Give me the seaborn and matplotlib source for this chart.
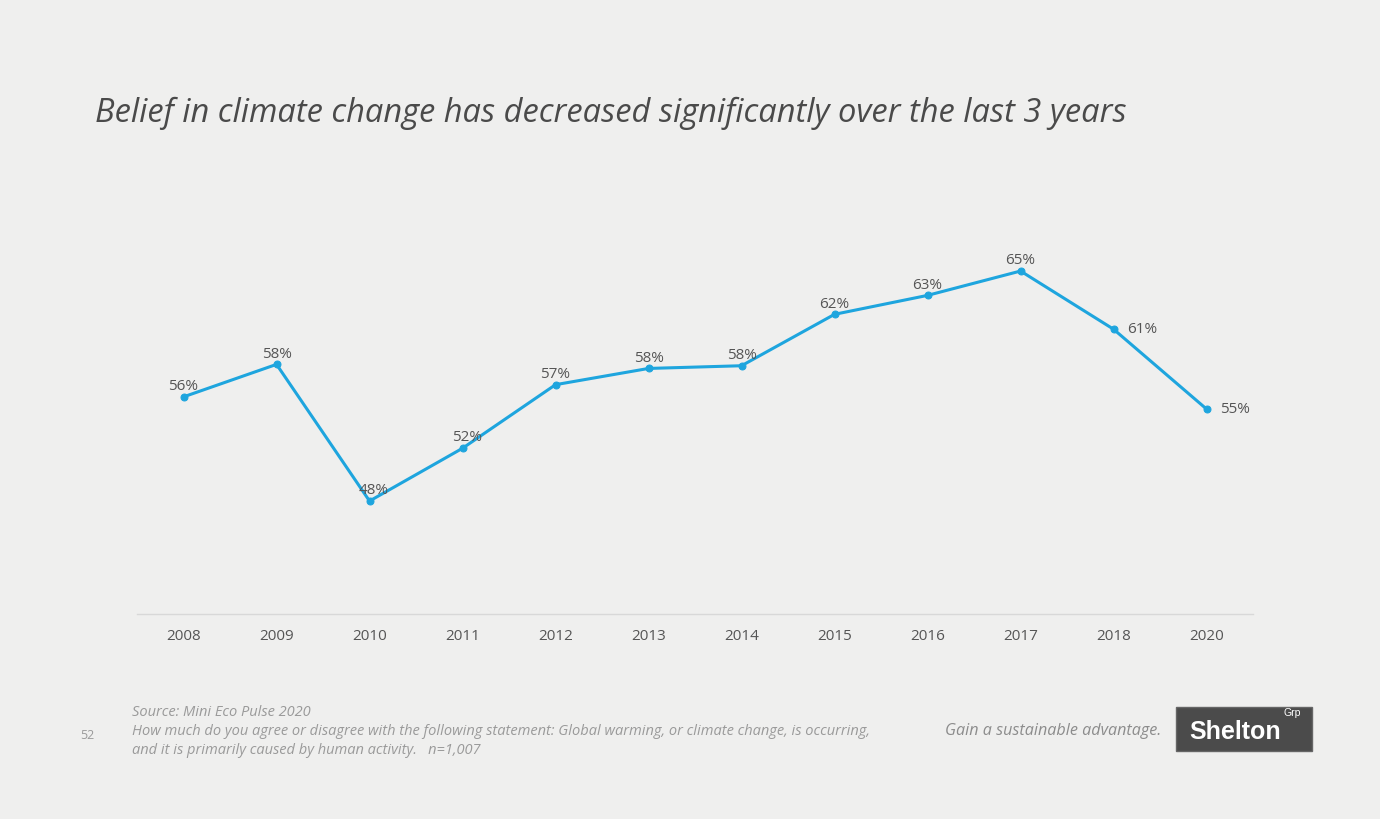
import pandas as pd
import matplotlib.pyplot as plt
import matplotlib.patches as mpatches
import seaborn as sns

# Data
years = ['2008', '2009', '2010', '2011', '2012', '2013', '2014', '2015', '2016', '2017', '2018', '2020']
belief = [55.7, 58.1, 48.0, 51.9, 56.6, 57.8, 58.0, 61.8, 63.2, 65.0, 60.7, 54.8]

bg = '#efefee'
line_color = '#1ea5de'
text_grey = '#555555'

sns.set_theme(style='white')
plt.rcParams['font.family'] = ['Open Sans', 'DejaVu Sans']

df = pd.DataFrame({'year': years, 'belief': belief})

fig = plt.figure(figsize=(13.8, 8.19), dpi=100, facecolor=bg)
ax = fig.add_axes([0.0993, 0.2503, 0.8087, 0.5055])
ax.set_facecolor(bg)

sns.lineplot(data=df, x='year', y='belief', ax=ax, color=line_color, linewidth=2.2,
             marker='o', markersize=5, markeredgecolor=line_color, sort=False)

# Data labels
for i, (yr, v) in enumerate(zip(years, belief)):
    if yr in ('2018', '2020'):
        ax.annotate(f'{v:.0f}%', (i, v), xytext=(10, 0), textcoords='offset points',
                    ha='left', va='center', fontsize=11, color=text_grey)
    else:
        ax.annotate(f'{v:.0f}%', (i, v), xytext=(3 if yr in ('2010', '2011') else 0, 2),
                    textcoords='offset points', ha='center', va='bottom',
                    fontsize=11, color=text_grey)

ax.set_xlim(-0.5, len(years) - 0.5)
ax.set_ylim(39.65, 70.25)
ax.set_yticks([])
ax.set_xlabel('')
ax.set_ylabel('')
for s in ['top', 'right', 'left']:
    ax.spines[s].set_visible(False)
ax.spines['bottom'].set_color('#d8d8d8')
ax.spines['bottom'].set_linewidth(1)
ax.tick_params(axis='x', length=0, pad=11, labelsize=11, labelcolor=text_grey)

# Title
fig.text(0.069, 0.862, 'Belief in climate change has decreased significantly over the last 3 years',
         fontsize=23.5, style='italic', color='#4a4a4a', va='center', ha='left')

# Footer
foot = '#9a9a9a'
fig.text(0.096, 0.130, 'Source: Mini Eco Pulse 2020', fontsize=10.5, style='italic', color=foot, va='center')
fig.text(0.096, 0.107, 'How much do you agree or disagree with the following statement: Global warming, or climate change, is occurring,',
         fontsize=10.5, style='italic', color=foot, va='center')
fig.text(0.096, 0.084, 'and it is primarily caused by human activity.   n=1,007',
         fontsize=10.5, style='italic', color=foot, va='center')
fig.text(0.058, 0.102, '52', fontsize=9, color=foot, va='center')
fig.text(0.685, 0.108, 'Gain a sustainable advantage.', fontsize=11.6, style='italic', color='#8c8c8c', va='center')

# Logo box
logo = mpatches.Rectangle((1176 / 1380, 1 - 751 / 819), 136 / 1380, 44 / 819,
                          transform=fig.transFigure, facecolor='#4b4b4b', edgecolor='#666666')
fig.patches.append(logo)
fig.text(0.862, 0.106, 'Shelton', fontsize=18, fontweight='bold', color='white', va='center',
         family=['Liberation Sans', 'DejaVu Sans'])
fig.text(0.930, 0.129, 'Grp', fontsize=7.5, color='white', va='center',
         family=['Liberation Sans', 'DejaVu Sans'])

fig.savefig('out.png', dpi=100, facecolor=bg)
